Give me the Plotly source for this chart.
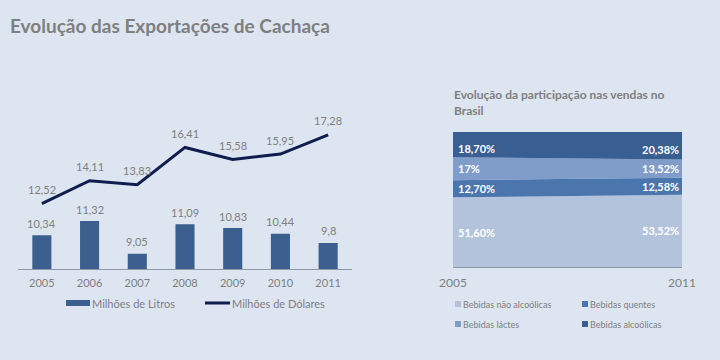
import plotly.graph_objects as go

# ---- data ----
years = ["2005", "2006", "2007", "2008", "2009", "2010", "2011"]
litros = [10.34, 11.32, 9.05, 11.09, 10.83, 10.44, 9.8]
dolares = [12.52, 14.11, 13.83, 16.41, 15.58, 15.95, 17.28]

share_years = [2005, 2011]
nao_alcoolicas = [51.60, 53.52]
quentes = [12.70, 12.58]
lacteas = [17.0, 13.52]
alcoolicas = [18.70, 20.38]
share_names = ["Bebidas não alcoólicas", "Bebidas quentes", "Bebidas láctes", "Bebidas alcoólicas"]

# ---- styles ----
W, H = 720, 360
BG = "#dde5f0"
GRAY = "#7f7f7f"
BAR = "#3b5f8f"
LINE = "#0f1e4e"
share_colors = ["#b4c3dc", "#4a76ad", "#7f9dc8", "#385e92"]
FONT = "Lato"


def px(x):
    return x / W


def py(y):
    return 1 - y / H


def fmt(v):
    return str(v).replace(".", ",")


def fmt_pct(v):
    if float(v).is_integer():
        return f"{int(v)}%"
    return f"{v:.2f}%".replace(".", ",")


xi = list(range(len(years)))

fig = go.Figure()

# left chart
fig.add_trace(go.Bar(x=xi, y=litros, marker=dict(color=BAR, line=dict(width=0)),
                     width=0.4, xaxis="x", yaxis="y", name="Milhões de Litros",
                     showlegend=False))
fig.add_trace(go.Scatter(x=xi, y=dolares, mode="lines", line=dict(color=LINE, width=3),
                         xaxis="x", yaxis="y", name="Milhões de Dólares", showlegend=False))

annotations = []
for i, v in zip(xi, litros):
    annotations.append(dict(x=i, y=v, xref="x", yref="y", text=fmt(v), showarrow=False,
                            yanchor="middle", yshift=12,
                            font=dict(size=11, color=GRAY, family=FONT)))
for i, v in zip(xi, dolares):
    annotations.append(dict(x=i, y=v, xref="x", yref="y", text=fmt(v), showarrow=False,
                            yanchor="middle", yshift=14,
                            font=dict(size=11, color=GRAY, family=FONT)))

# right chart (stacked area)
series = [nao_alcoolicas, quentes, lacteas, alcoolicas]
for name, vals, col in zip(share_names, series, share_colors):
    fig.add_trace(go.Scatter(x=share_years, y=vals, stackgroup="one", mode="none",
                             fillcolor=col, line=dict(width=0), name=name,
                             xaxis="x2", yaxis="y2", showlegend=False))

for i in range(2):
    cum = 0
    for k, vals in enumerate(series):
        center = cum + vals[i] / 2
        cum += vals[i]
        annotations.append(dict(x=share_years[i], y=center, xref="x2", yref="y2",
                                text="<b>" + fmt_pct(vals[i]) + "</b>", showarrow=False,
                                xanchor="left" if i == 0 else "right", yanchor="middle",
                                xshift=3 if i == 0 else -1,
                                yshift=-4 if k == 3 else 0,
                                font=dict(size=11, color="white", family=FONT)))

# titles
annotations.append(dict(x=px(8), y=py(26), xref="paper", yref="paper", xanchor="left",
                        yanchor="middle", text="<b>Evolução das Exportações de Cachaça</b>",
                        showarrow=False, font=dict(size=19, color=GRAY, family=FONT)))
annotations.append(dict(x=px(452), y=py(85), xref="paper", yref="paper", xanchor="left",
                        yanchor="top", align="left",
                        text="<b>Evolução da participação nas vendas no<br>Brasil</b>",
                        showarrow=False, font=dict(size=12, color=GRAY, family=FONT)))

shapes = []
# left legend
shapes.append(dict(type="rect", xref="paper", yref="paper", x0=px(66), x1=px(90),
                   y0=py(306), y1=py(300), fillcolor=BAR, line=dict(width=0)))
annotations.append(dict(x=px(90), y=py(303), xref="paper", yref="paper", xanchor="left",
                        yanchor="middle", text="Milhões de Litros", showarrow=False,
                        font=dict(size=11, color=GRAY, family=FONT)))
shapes.append(dict(type="line", xref="paper", yref="paper", x0=px(205), x1=px(230),
                   y0=py(303), y1=py(303), line=dict(color=LINE, width=3)))
annotations.append(dict(x=px(230), y=py(303), xref="paper", yref="paper", xanchor="left",
                        yanchor="middle", text="Milhões de Dólares", showarrow=False,
                        font=dict(size=11, color=GRAY, family=FONT)))

# right legend
leg_pos = [(455, 304), (582, 304), (455, 324), (582, 324)]
for (lx, ly), name, col in zip(leg_pos, share_names, share_colors):
    shapes.append(dict(type="rect", xref="paper", yref="paper", x0=px(lx), x1=px(lx + 6),
                       y0=py(ly + 3), y1=py(ly - 3), fillcolor=col, line=dict(width=0)))
    annotations.append(dict(x=px(lx + 6), y=py(ly), xref="paper", yref="paper", xanchor="left",
                            yanchor="middle", text=name, showarrow=False,
                            font=dict(size=9, color=GRAY, family=FONT)))

fig.update_layout(
    width=W, height=H, autosize=False,
    margin=dict(l=0, r=0, t=0, b=0, pad=0, autoexpand=False),
    paper_bgcolor=BG, plot_bgcolor="rgba(0,0,0,0)",
    font=dict(family=FONT, color=GRAY),
    annotations=annotations, shapes=shapes,
    showlegend=False,
    xaxis=dict(domain=[px(18), px(352)], range=[-0.5, len(years) - 0.5], tickvals=xi,
               ticktext=years, showline=True, linecolor="#8e98a6",
               linewidth=1, ticks="", showgrid=False, zeroline=False,
               tickfont=dict(size=11, color=GRAY, family=FONT), anchor="y",
               ticklabelstandoff=4, automargin=False),
    yaxis=dict(domain=[py(269), py(110)], range=[8, 19], visible=False, showgrid=False,
               zeroline=False),
    xaxis2=dict(domain=[px(453), px(682)], range=[2005, 2011], tickvals=share_years,
                ticktext=[str(y) for y in share_years], showline=True, linecolor="#8e98a6",
                linewidth=1, ticks="", showgrid=False, zeroline=False, anchor="y2",
                tickfont=dict(size=12, color=GRAY, family=FONT), ticklabelstandoff=5,
                automargin=False),
    yaxis2=dict(domain=[py(267), py(132)], range=[0, 100], visible=False, showgrid=False,
                zeroline=False, anchor="x2"),
)

fig.write_html("out.html", config={"responsive": False, "displayModeBar": False},
               post_script="document.body.style.margin='0';")
